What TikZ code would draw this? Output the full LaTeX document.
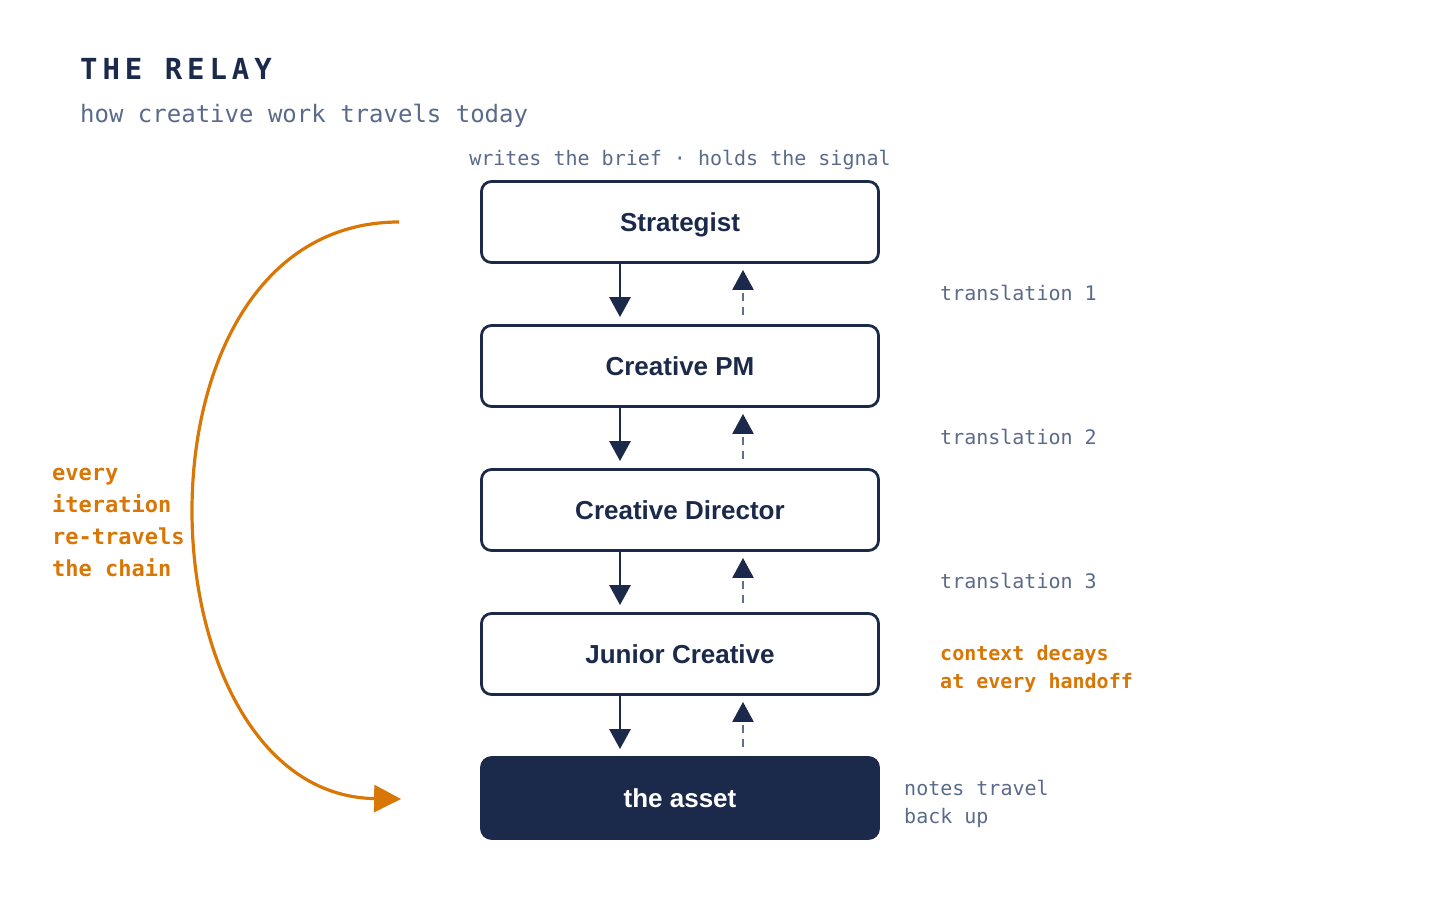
\documentclass[tikz,border=0pt]{standalone}
\usepackage{fontspec}
\setmainfont{Liberation Sans}
\newfontfamily\mono{DejaVu Sans Mono}
\newfontfamily\monols[LetterSpace=17]{DejaVu Sans Mono}
\usetikzlibrary{arrows.meta}
\definecolor{navy}{HTML}{1B2A4A}
\definecolor{greytext}{HTML}{5A6A8B}
\definecolor{dashcol}{HTML}{5F6F8F}
\definecolor{amber}{HTML}{D97706}
\tikzset{
  role/.style={draw=navy, line width=2.8pt, rounded corners=10pt, fill=white,
    minimum width=397pt, minimum height=81pt, inner sep=0pt,
    text=navy, font=\bfseries\fontsize{26}{30}\selectfont,
    text height=18.6pt, text depth=0pt},
  asset/.style={role, fill=navy, text=white},
  note/.style={anchor=base west, inner sep=0pt, text=greytext,
    font=\mono\fontsize{20}{24}\selectfont},
  warn/.style={anchor=base west, inner sep=0pt, text=amber,
    font=\mono\bfseries\fontsize{20}{24}\selectfont},
  handdown/.style={draw=navy, line width=2.8pt,
    -{Triangle[length=20pt,width=21pt]}, shorten >=7pt},
  handup/.style={draw=dashcol, line width=2.4pt, dash pattern=on 8pt off 6pt,
    -{Triangle[length=20pt,width=21pt,color=navy]}, shorten <=9pt, shorten >=6pt},
  loopback/.style={draw=amber, line width=3.2pt, -{Triangle[length=27pt,width=27pt]}}
}
\begin{document}
\begin{tikzpicture}[x=1pt,y=-1pt]
\useasboundingbox (0,0) rectangle (1440,920);

% title
\node[anchor=base west, inner sep=0pt, text=navy,
  font=\monols\bfseries\fontsize{29}{34}\selectfont] (title) at (80,80) {THE RELAY};
\node[anchor=base west, inner sep=0pt, text=greytext,
  font=\mono\fontsize{24}{28}\selectfont] (subtitle) at (80,123) {how creative work travels today};

% boxes
\node[role] (s) at (680,222) {Strategist};
\node[role] (pm) at (680,366) {Creative PM};
\node[role] (cd) at (680,510) {Creative Director};
\node[role] (jc) at (680,654) {Junior Creative};
\node[asset] (a) at (680,798) {the asset};

\node[note, anchor=base] (brief) at (680,166) {writes the brief · holds the signal};

% handoffs
\foreach \u/\l in {s/pm, pm/cd, cd/jc, jc/a}{
  \draw[handdown] ([xshift=-60pt]\u.south) -- ([xshift=-60pt]\l.north);
  \draw[handup] ([xshift=63pt]\l.north) -- ([xshift=63pt]\u.south);
}

% right labels
\node[note] (t1) at (940,300) {translation 1};
\node[note] (t2) at (940,444) {translation 2};
\node[note] (t3) at (940,588) {translation 3};
\node[warn] (d1) at (940,660) {context decays};
\node[warn] (d2) at (940,688) {at every handoff};
\node[note] (n1) at (904,795) {notes travel};
\node[note] (n2) at (904,823) {back up};

% loop
\coordinate (c1) at ([xshift=-81pt]s.west);
\coordinate (c2) at ([xshift=-79pt,yshift=-1pt]a.west);
\draw[loopback] (c1) .. controls (117,222) and (137,795) .. (c2);

\node[warn, font=\mono\bfseries\fontsize{22}{26}\selectfont] (l1) at (52,480) {every};
\node[warn, font=\mono\bfseries\fontsize{22}{26}\selectfont] (l2) at (52,512) {iteration};
\node[warn, font=\mono\bfseries\fontsize{22}{26}\selectfont] (l3) at (52,544) {re-travels};
\node[warn, font=\mono\bfseries\fontsize{22}{26}\selectfont] (l4) at (52,576) {the chain};
\end{tikzpicture}
\end{document}
